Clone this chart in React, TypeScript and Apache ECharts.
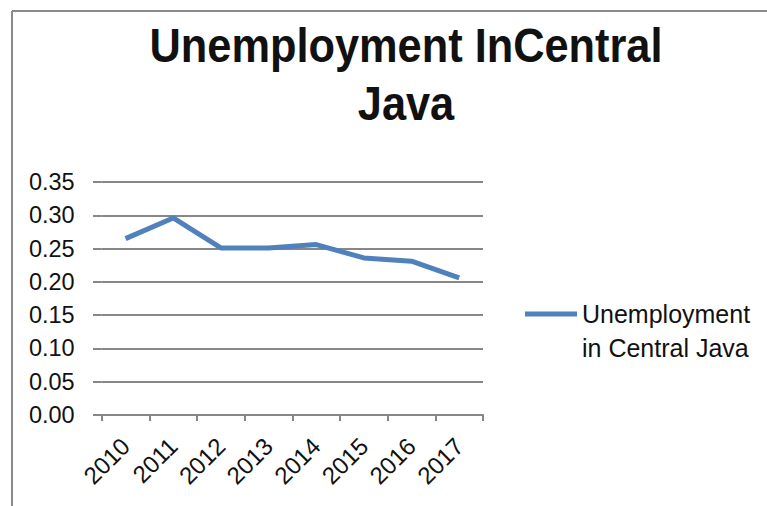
import React, { useEffect, useRef } from "react";
import * as echarts from "echarts";

const years = ["2010", "2011", "2012", "2013", "2014", "2015", "2016", "2017"];
const unemployment = [0.265, 0.296, 0.251, 0.251, 0.256, 0.236, 0.231, 0.206];
const seriesName = "Unemployment in Central Java";
const titleText = "Unemployment InCentral\nJava";

export default function App() {
  const ref = useRef<HTMLDivElement>(null);
  useEffect(() => {
    if (!ref.current) return;
    const chart = echarts.init(ref.current, null, { renderer: "svg" });
    chart.setOption({
      animation: false,
      backgroundColor: "#ffffff",
      textStyle: { fontFamily: "Liberation Sans, Arial, sans-serif" },
      legend: {
        data: [seriesName],
        left: 525,
        top: 263,
        padding: 0,
        icon: "rect",
        itemWidth: 52,
        itemHeight: 5,
        formatter: () => "\nUnemployment\nin Central Java",
        textStyle: {
          fontFamily: "Liberation Sans, Arial, sans-serif",
          fontSize: 25,
          lineHeight: 34,
          color: "#111111",
        },
      },
      grid: { left: 101.7, right: 284, top: 182, bottom: 91, containLabel: false },
      xAxis: {
        type: "category",
        data: years,
        boundaryGap: true,
        axisLine: { lineStyle: { color: "#878787", width: 2 } },
        axisTick: { show: true, length: 6, lineStyle: { color: "#878787", width: 2 } },
        axisLabel: {
          rotate: 45,
          margin: 27,
          fontSize: 24,
          color: "#111111",
          fontFamily: "Liberation Sans, Arial, sans-serif",
        },
        splitLine: { show: false },
      },
      yAxis: {
        type: "value",
        min: 0,
        max: 0.35,
        interval: 0.05,
        axisLine: { show: false },
        axisTick: { show: true, length: 8.7, lineStyle: { color: "#878787", width: 2 } },
        axisLabel: {
          margin: 27,
          fontSize: 23.5,
          color: "#111111",
          fontFamily: "Liberation Sans, Arial, sans-serif",
          formatter: (v: number) => v.toFixed(2),
        },
        splitLine: { lineStyle: { color: "#878787", width: 2 } },
      },
      graphic: [
        {
          type: "line",
          shape: { x1: 12, y1: 11, x2: 12, y2: 506 },
          style: { stroke: "#8a8a8a", lineWidth: 2 },
          silent: true,
        },
        {
          type: "line",
          shape: { x1: 12, y1: 11, x2: 767, y2: 11 },
          style: { stroke: "#8a8a8a", lineWidth: 2 },
          silent: true,
        },
        {
          type: "text",
          x: 406,
          y: 16,
          scaleX: 0.885,
          silent: true,
          style: {
            text: titleText,
            textAlign: "center",
            textVerticalAlign: "top",
            fontFamily: "Liberation Sans, Arial, sans-serif",
            fontWeight: "bold",
            fontSize: 49,
            lineHeight: 58,
            fill: "#111111",
          },
        },
      ],
      series: [
        {
          name: seriesName,
          type: "line",
          data: unemployment,
          symbol: "none",
          lineStyle: { color: "#4F81BD", width: 5 },
          itemStyle: { color: "#4F81BD" },
        },
      ],
    });
    return () => chart.dispose();
  }, []);
  return (
    <div
      ref={ref}
      style={{ position: "fixed", left: 0, top: 0, width: 767, height: 506 }}
    />
  );
}
